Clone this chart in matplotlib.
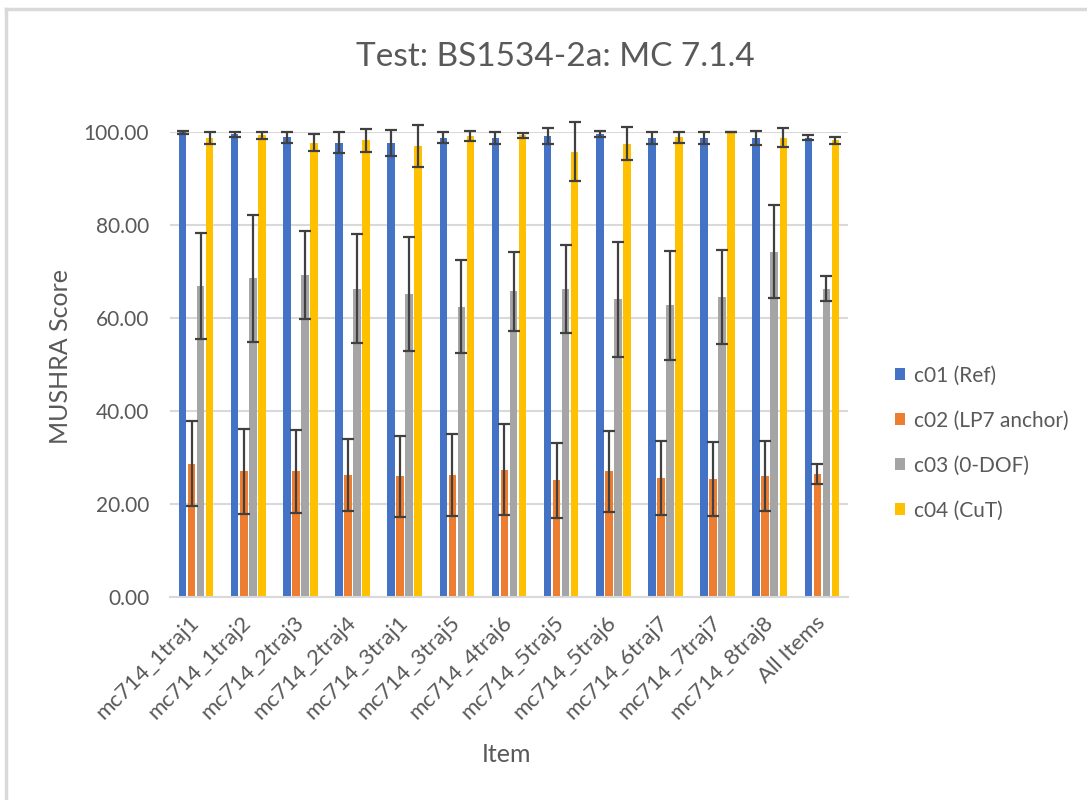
import matplotlib
matplotlib.use("Agg")
import matplotlib.pyplot as plt
import numpy as np
from matplotlib.patches import Patch
from matplotlib.lines import Line2D

items = ["mc714_1traj1", "mc714_1traj2", "mc714_2traj3", "mc714_2traj4", "mc714_3traj1",
         "mc714_3traj5", "mc714_4traj6", "mc714_5traj5", "mc714_5traj6", "mc714_6traj7",
         "mc714_7traj7", "mc714_8traj8", "All Items"]
series_names = ["c01 (Ref)", "c02 (LP7 anchor)", "c03 (0-DOF)", "c04 (CuT)"]

c01 = [99.9, 99.5, 98.9, 97.7, 97.7, 98.8, 98.8, 99.1, 99.6, 98.8, 98.8, 98.8, 98.8]
c01_err = [0.3, 0.5, 1.2, 2.3, 2.8, 1.1, 1.3, 1.7, 0.7, 1.3, 1.3, 1.5, 0.5]
c02 = [28.7, 27.0, 27.0, 26.2, 26.0, 26.2, 27.4, 25.1, 27.0, 25.6, 25.4, 26.0, 26.5]
c02_err = [9.1, 9.1, 9.0, 7.8, 8.7, 8.8, 9.7, 8.1, 8.7, 7.9, 8.0, 7.5, 2.1]
c03 = [66.8, 68.5, 69.3, 66.3, 65.2, 62.4, 65.7, 66.3, 64.0, 62.7, 64.5, 74.2, 66.3]
c03_err = [11.4, 13.6, 9.5, 11.7, 12.2, 10.0, 8.5, 9.5, 12.3, 11.7, 10.1, 10.0, 2.7]
c04 = [98.8, 99.3, 97.7, 98.2, 96.9, 99.1, 99.3, 95.8, 97.5, 98.9, 100.0, 98.8, 98.2]
c04_err = [1.3, 0.7, 1.8, 2.4, 4.5, 1.1, 0.5, 6.3, 3.5, 1.2, 0.0, 2.0, 0.7]

values = [c01, c02, c03, c04]
errors = [c01_err, c02_err, c03_err, c04_err]
colors = ["#4472C4", "#ED7D31", "#A5A5A5", "#FFC000"]

FONT = ["Lato", "DejaVu Sans"]
plt.rcParams['font.family'] = FONT
TXT = "#595959"

W, H = 1087, 800
fig = plt.figure(figsize=(W / 100, H / 100), dpi=100)
fig.patch.set_facecolor("white")

# chart area border (top and left visible)
fig.add_artist(Line2D([6 / W, 6 / W], [0, 1 - 9 / H], color="#D9D9D9", lw=2.5, transform=fig.transFigure))
fig.add_artist(Line2D([6 / W, 1], [1 - 9 / H, 1 - 9 / H], color="#D9D9D9", lw=2.5, transform=fig.transFigure))

left, right, top, bottom = 170, 848, 132, 597
ax = fig.add_axes([left / W, 1 - bottom / H, (right - left) / W, (bottom - top) / H])

x = np.arange(len(items))
step = 0.173
bw = 0.145
for i, (vals, errs, col) in enumerate(zip(values, errors, colors)):
    pos = x + (i - 1.5) * step
    ax.bar(pos, vals, width=bw, color=col, zorder=2)
    eb = ax.errorbar(pos, vals, yerr=errs, fmt="none", ecolor="#404040", elinewidth=1.6,
                     capsize=4.5, capthick=1.6, zorder=3)
    for a in list(eb.lines[1]) + list(eb.lines[2]):
        a.set_clip_on(False)

ax.set_xlim(-0.5, len(items) - 0.5)
ax.set_ylim(0, 100)
ax.set_yticks([0, 20, 40, 60, 80, 100])
ax.set_yticklabels([f"{v:.2f}" for v in [0, 20, 40, 60, 80, 100]], fontsize=15, color=TXT)
ax.set_xticks(x)
ax.set_xticklabels(items, rotation=45, ha="right", va="center", rotation_mode="anchor",
                   fontsize=16, color=TXT)
ax.tick_params(axis="both", length=0)
ax.tick_params(axis="y", pad=15)
ax.tick_params(axis="x", pad=16)
ax.grid(axis="y", color="#D9D9D9", lw=1.5, zorder=0)
ax.set_axisbelow(True)
for s in ["top", "right", "left"]:
    ax.spines[s].set_visible(False)
ax.spines["bottom"].set_color("#D9D9D9")
ax.spines["bottom"].set_linewidth(1.5)

fig.text(555 / W, 1 - 57 / H, "Test: BS1534-2a: MC 7.1.4", ha="center", va="center",
         fontsize=24, color=TXT)
fig.text(60 / W, 1 - 357 / H, "MUSHRA Score", rotation=90, ha="center", va="center",
         fontsize=18, color=TXT)
fig.text(507 / W, 1 - 755 / H, "Item", ha="center", va="center", fontsize=18, color=TXT)

handles = [Patch(facecolor=c, edgecolor="none") for c in colors]
fig.legend(handles, series_names, loc="center left", bbox_to_anchor=(876 / W, 1 - 443 / H),
           frameon=False, fontsize=15, labelcolor=TXT, handlelength=0.5, handleheight=0.5,
           handletextpad=0.4, labelspacing=1.2)

fig.savefig("out.png", dpi=100)
